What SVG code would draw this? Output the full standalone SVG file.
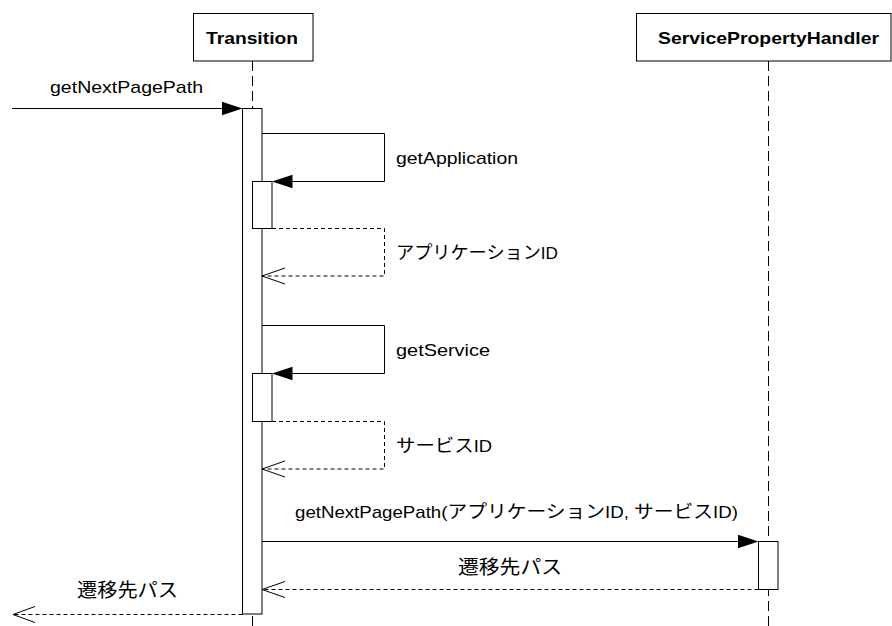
<svg xmlns="http://www.w3.org/2000/svg" width="892" height="626" viewBox="0 0 892 626">
<style>
.box{fill:#fff;stroke:#000;stroke-width:1}
.life{stroke:#000;stroke-width:1;stroke-dasharray:10,5;fill:none}
.act{fill:#fff;stroke:#000;stroke-width:1}
.msg{stroke:#000;stroke-width:1;fill:none}
.ret{stroke:#000;stroke-width:1;fill:none;stroke-dasharray:4,3}
.head{fill:#000;stroke:none}
.t{font-family:"Liberation Sans","Noto Sans CJK JP",sans-serif;font-size:17px;fill:#000}
.b{font-weight:bold;font-size:17px}
.j{font-family:"Noto Sans CJK JP","Liberation Sans",sans-serif;font-size:18px}
.jj{font-family:"Noto Sans CJK JP","Liberation Sans",sans-serif;font-size:19px}
</style>
<rect width="892" height="626" fill="#fff"/>
<g id="node-transition">
<rect class="box" x="193.5" y="13.5" width="119.5" height="47.5"/>
<text class="t b" x="206" y="43.5" textLength="92" lengthAdjust="spacingAndGlyphs">Transition</text>
<line class="life" x1="252.5" y1="61" x2="252.5" y2="626"/>
</g>
<g id="node-serviceprop">
<rect class="box" x="636.5" y="13.5" width="254.5" height="47.5"/>
<text class="t b" x="658" y="43.5" textLength="221" lengthAdjust="spacingAndGlyphs">ServicePropertyHandler</text>
<line class="life" x1="768.5" y1="61" x2="768.5" y2="626"/>
</g>
<g id="activations">
<rect class="act" x="242.5" y="108.5" width="19.5" height="505.5"/>
<rect class="act" x="252.5" y="181.5" width="19.5" height="47"/>
<rect class="act" x="252.5" y="373.5" width="19.5" height="48"/>
<rect class="act" x="758.5" y="541.5" width="19.5" height="48"/>
</g>
<g id="connectors">
<line class="msg" x1="12" y1="108.5" x2="230" y2="108.5"/>
<polygon class="head" points="242.5,108.5 222,101.8 222,115.2"/>
<polyline class="msg" points="262,133.5 384.5,133.5 384.5,181.5 285,181.5"/>
<polygon class="head" points="272,181.5 292.5,174.8 292.5,188.2"/>
<polyline class="ret" points="272,228.5 384.5,228.5 384.5,276 262,276"/>
<polyline class="msg" points="285,268 262,276 285,284"/>
<polyline class="msg" points="262,325.5 384.5,325.5 384.5,373.5 285,373.5"/>
<polygon class="head" points="272,373.5 292.5,366.8 292.5,380.2"/>
<polyline class="ret" points="272,421.5 384.5,421.5 384.5,469 262,469"/>
<polyline class="msg" points="285,461 262,469 285,477"/>
<line class="msg" x1="262" y1="541.5" x2="746" y2="541.5"/>
<polygon class="head" points="758.5,541.5 738,534.8 738,548.2"/>
<line class="ret" x1="758.5" y1="589.5" x2="262" y2="589.5"/>
<polyline class="msg" points="285,581.5 262,589.5 285,597.5"/>
<line class="ret" x1="242.5" y1="614.5" x2="13" y2="614.5"/>
<polyline class="msg" points="35,606.5 13,614.5 35,622.5"/>
</g>
<g id="labels">
<text class="t" x="50" y="92.5" textLength="153" lengthAdjust="spacingAndGlyphs">getNextPagePath</text>
<text class="t" x="396" y="164" textLength="122" lengthAdjust="spacingAndGlyphs">getApplication</text>
<text class="t" x="396" y="259" textLength="162" lengthAdjust="spacingAndGlyphs"><tspan class="j">アプリケーション</tspan>ID</text>
<text class="t" x="396" y="356" textLength="94" lengthAdjust="spacingAndGlyphs">getService</text>
<text class="t" x="396" y="452" textLength="96" lengthAdjust="spacingAndGlyphs"><tspan class="j">サービス</tspan>ID</text>
<text class="t" x="295" y="518" textLength="443" lengthAdjust="spacingAndGlyphs">getNextPagePath(<tspan class="j">アプリケーション</tspan>ID, <tspan class="j">サービス</tspan>ID)</text>
<text class="t jj" x="458" y="573.5" textLength="104" lengthAdjust="spacingAndGlyphs">遷移先パス</text>
<text class="t jj" x="77" y="597" textLength="101" lengthAdjust="spacingAndGlyphs">遷移先パス</text>
</g>
</svg>
